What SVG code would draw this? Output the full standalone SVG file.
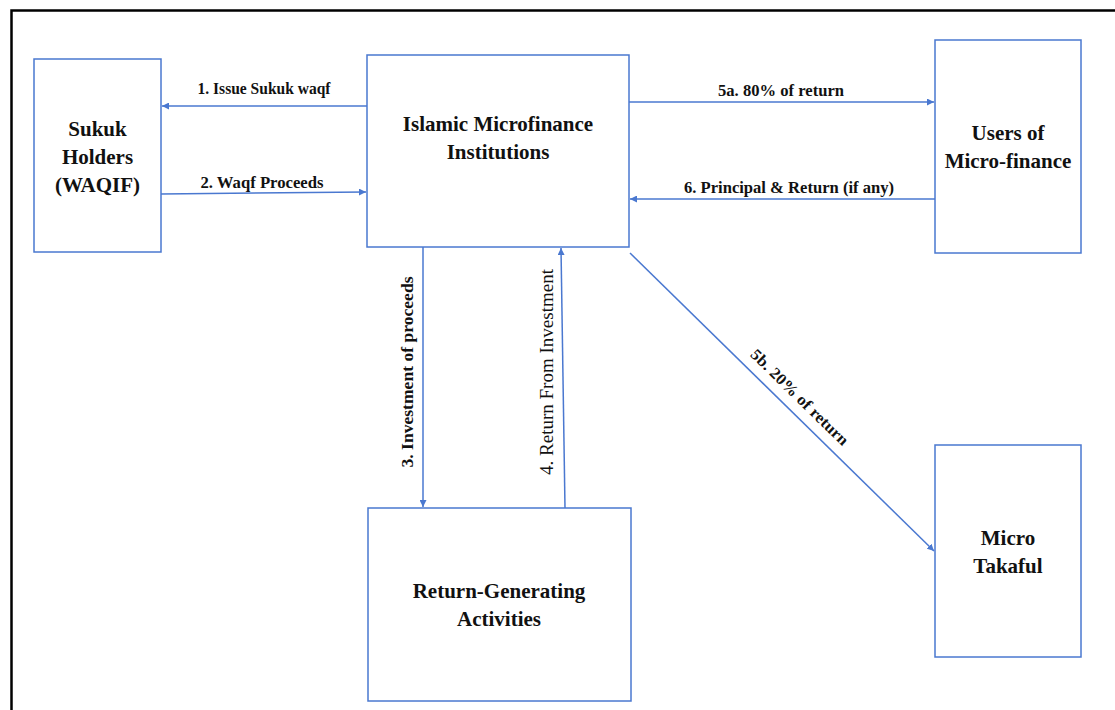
<svg xmlns="http://www.w3.org/2000/svg" width="1115" height="710" viewBox="0 0 1115 710">
<style>
.box{fill:#fff;stroke:#4a78d0;stroke-width:1.5}
.con{stroke:#4a78d0;stroke-width:1.5;fill:none}
.nt{font-family:"Liberation Serif","Times New Roman",serif;font-weight:bold;font-size:21px;fill:#111;text-anchor:middle}
.lb{font-family:"Liberation Serif","Times New Roman",serif;font-weight:bold;font-size:16px;fill:#111;text-anchor:middle}
.lr{font-family:"Liberation Serif","Times New Roman",serif;font-weight:normal;font-size:18px;fill:#111;text-anchor:middle}
</style>
<defs>
<marker id="ah" viewBox="0 0 10 10" refX="10" refY="5" markerWidth="7" markerHeight="7" markerUnits="userSpaceOnUse" orient="auto">
<path d="M0,0 L10,5 L0,10 z" fill="#4a78d0"/>
</marker>
</defs>
<rect x="0" y="0" width="1115" height="710" fill="#fff"/>
<rect id="frame" x="11.5" y="10.5" width="1120" height="720" fill="none" stroke="#000" stroke-width="2.5"/>
<g id="sukuk">
<rect class="box" x="34" y="59" width="127" height="193"/>
<text class="nt" x="97.5" y="136">Sukuk</text>
<text class="nt" x="97.5" y="164">Holders</text>
<text class="nt" x="97.5" y="192">(WAQIF)</text>
</g>
<g id="imi">
<rect class="box" x="367" y="55" width="262" height="192"/>
<text class="nt" x="498" y="131">Islamic Microfinance</text>
<text class="nt" x="498" y="159">Institutions</text>
</g>
<g id="users">
<rect class="box" x="935" y="40" width="146" height="213"/>
<text class="nt" x="1008" y="140">Users of</text>
<text class="nt" x="1008" y="168">Micro-finance</text>
</g>
<g id="takaful">
<rect class="box" x="935" y="445" width="146" height="212"/>
<text class="nt" x="1008" y="545">Micro</text>
<text class="nt" x="1008" y="573">Takaful</text>
</g>
<g id="rga">
<rect class="box" x="368" y="508" width="263" height="193"/>
<text class="nt" x="499" y="598">Return-Generating</text>
<text class="nt" x="499" y="626">Activities</text>
</g>
<g id="connectors">
<line class="con" x1="367" y1="106" x2="162" y2="106" marker-end="url(#ah)"/>
<line class="con" x1="161" y1="194" x2="366" y2="192" marker-end="url(#ah)"/>
<line class="con" x1="629" y1="102" x2="934" y2="102" marker-end="url(#ah)"/>
<line class="con" x1="935" y1="199" x2="630" y2="199" marker-end="url(#ah)"/>
<line class="con" x1="423" y1="247" x2="423" y2="507" marker-end="url(#ah)"/>
<line class="con" x1="565" y1="508" x2="561" y2="248" marker-end="url(#ah)"/>
<line class="con" x1="630" y1="253" x2="934" y2="551" marker-end="url(#ah)"/>
<text class="lb" x="264" y="94" textLength="133" lengthAdjust="spacingAndGlyphs">1. Issue Sukuk waqf</text>
<text class="lb" x="262" y="188" textLength="123" lengthAdjust="spacingAndGlyphs">2. Waqf Proceeds</text>
<text class="lb" x="781" y="96" textLength="126" lengthAdjust="spacingAndGlyphs">5a. 80% of return</text>
<text class="lb" x="789" y="193" textLength="210" lengthAdjust="spacingAndGlyphs">6. Principal &amp; Return (if any)</text>
<text class="lb" transform="translate(413,372) rotate(-90)" font-size="17" textLength="191" lengthAdjust="spacingAndGlyphs">3. Investment of proceeds</text>
<text class="lr" transform="translate(553,372) rotate(-90)" textLength="206" lengthAdjust="spacingAndGlyphs">4. Return From Investment</text>
<text class="lb" transform="translate(796,401) rotate(44.4)" textLength="130" lengthAdjust="spacingAndGlyphs">5b. 20% of return</text>
</g>
</svg>
